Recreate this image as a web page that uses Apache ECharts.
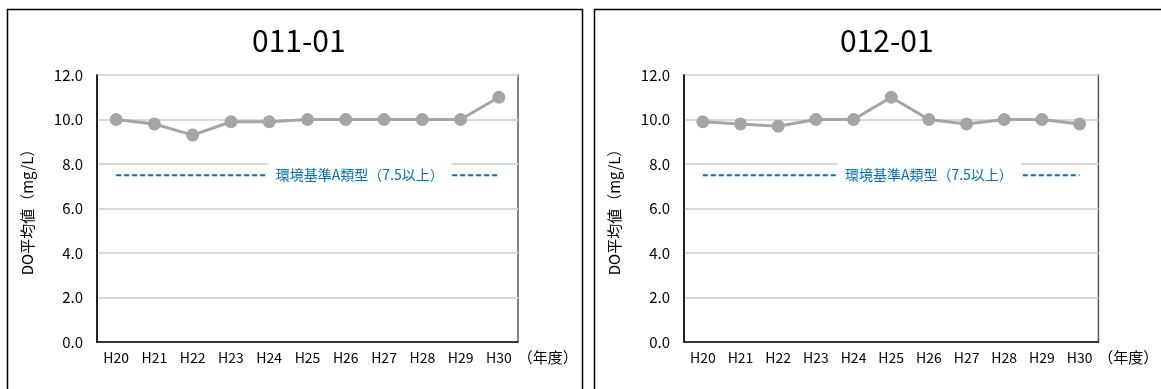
<!DOCTYPE html>
<html>
<head>
<meta charset="utf-8">
<script src="https://cdn.jsdelivr.net/npm/echarts@6/dist/echarts.min.js"></script>
<style>
html,body{margin:0;padding:0;background:#fff;}
#chart{width:1161px;height:389px;}
</style>
</head>
<body>
<div id="chart"></div>
<script>
const categories = ['H20','H21','H22','H23','H24','H25','H26','H27','H28','H29','H30'];
const site1Values = [10.0, 9.8, 9.3, 9.9, 9.9, 10.0, 10.0, 10.0, 10.0, 10.0, 11.0];
const site2Values = [9.9, 9.8, 9.7, 10.0, 10.0, 11.0, 10.0, 9.8, 10.0, 10.0, 9.8];
const standardLine = [7.5, 7.5, 7.5, 7.5, 7.5, 7.5, 7.5, 7.5, 7.5, 7.5, 7.5];
const panelTitles = ['011-01', '012-01'];
const yAxisName = 'DO平均値（mg/L）';
const xAxisName = '（年度）';
const standardLabel = '環境基準A類型（7.5以上）';
const yMin = 0, yMax = 12, yStep = 2;

const FONT = 'Noto Sans CJK JP';
const chart = echarts.init(document.getElementById('chart'), null, {renderer: 'canvas'});

const grids = [
  {left: 97, top: 75, width: 421, height: 267},
  {left: 684, top: 75, width: 422, height: 267}
];
const xNameGaps = [-2, -12];
const labelOffsets = [[14, 0], [0, 0]];
const titleLefts = [247, 835];

function makeX(i) {
  return {
    type: 'category', gridIndex: i, data: categories, boundaryGap: true,
    axisLine: {show: true, lineStyle: {color: '#000', width: 1.5}},
    axisTick: {show: false},
    axisLabel: {color: '#000', fontSize: 14, fontFamily: FONT, margin: 9},
    splitLine: {show: false},
    name: xAxisName, nameLocation: 'end', nameGap: xNameGaps[i],
    nameTextStyle: {color: '#000', fontSize: 15, fontFamily: FONT, verticalAlign: 'top', padding: [8, 0, 0, 0], align: 'left'}
  };
}
function makeY(i) {
  return {
    type: 'value', gridIndex: i, min: yMin, max: yMax, interval: yStep,
    axisLine: {show: true, lineStyle: {color: '#000', width: 1.5}},
    axisTick: {show: false},
    axisLabel: {color: '#000', fontSize: 15, fontFamily: FONT, margin: 14, formatter: v => v.toFixed(1)},
    splitLine: {show: true, lineStyle: {color: '#d9d9d9', width: 2}},
    name: yAxisName, nameLocation: 'middle', nameGap: 62, nameRotate: 90,
    nameTextStyle: {color: '#000', fontSize: 15, fontFamily: FONT}
  };
}
function dataSeries(i, values) {
  return {
    type: 'line', xAxisIndex: i, yAxisIndex: i, data: values,
    symbol: 'circle', symbolSize: 13,
    lineStyle: {color: '#a5a5a5', width: 3},
    itemStyle: {color: '#a5a5a5'},
    z: 3
  };
}
function stdSeries(i) {
  return {
    type: 'line', xAxisIndex: i, yAxisIndex: i, data: standardLine,
    symbol: 'none',
    lineStyle: {color: '#0070c0', width: 2, type: [5, 3]},
    z: 2,
    markPoint: {
      symbol: 'rect', symbolSize: 1,
      itemStyle: {color: 'rgba(0,0,0,0)'},
      data: [{coord: ['H26', 7.5]}],
      label: {
        show: true, position: 'inside', formatter: standardLabel,
        backgroundColor: '#fff', padding: [6, 8],
        color: '#0070c0', fontSize: 14, fontFamily: FONT,
        offset: labelOffsets[i]
      }
    }
  };
}

const option = {
  animation: false,
  backgroundColor: '#fff',
  textStyle: {fontFamily: FONT},
  title: panelTitles.map((t, i) => ({
    text: t, left: titleLefts[i], top: 21,
    textStyle: {fontSize: 30, fontWeight: 'normal', color: '#000', fontFamily: FONT}
  })),
  grid: grids.map(g => Object.assign({show: true, borderColor: '#595959', borderWidth: 1.5, containLabel: false}, g)),
  xAxis: [makeX(0), makeX(1)],
  yAxis: [makeY(0), makeY(1)],
  series: [stdSeries(0), dataSeries(0, site1Values), stdSeries(1), dataSeries(1, site2Values)],
  graphic: [
    {type: 'rect', shape: {x: 7.5, y: 9.5, width: 575, height: 420}, style: {fill: 'none', stroke: '#000', lineWidth: 1.5}, z: 100},
    {type: 'rect', shape: {x: 594.5, y: 9.5, width: 620, height: 420}, style: {fill: 'none', stroke: '#000', lineWidth: 1.5}, z: 100}
  ]
};
chart.setOption(option);
</script>
</body>
</html>
